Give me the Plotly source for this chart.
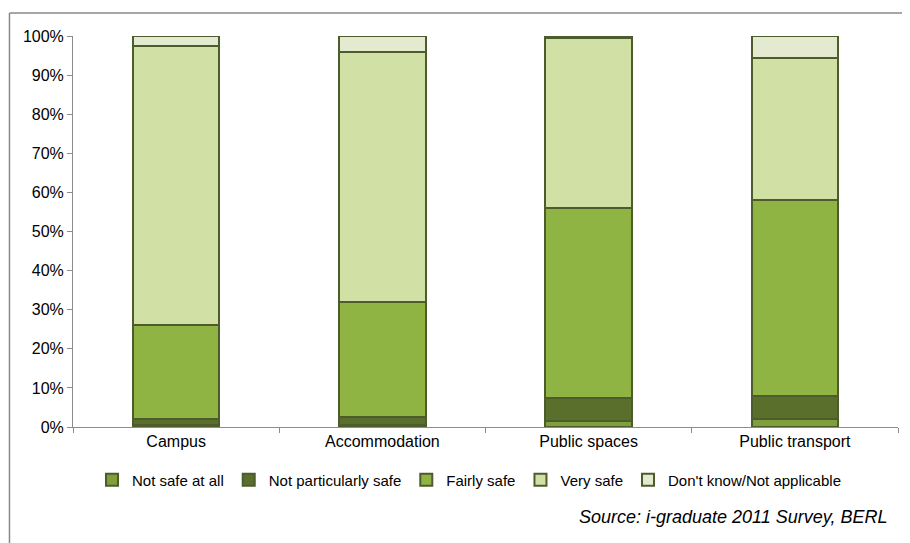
import plotly.graph_objects as go

categories = ["Campus", "Accommodation", "Public spaces", "Public transport"]
not_safe_at_all = [0.5, 0.5, 1.5, 2.0]
not_particularly_safe = [1.5, 2.0, 6.0, 6.0]
fairly_safe = [24.0, 29.5, 48.5, 50.0]
very_safe = [71.5, 64.0, 43.5, 36.5]
dont_know = [2.5, 4.0, 0.5, 5.5]

series = [
    ("Not safe at all", not_safe_at_all, "#7f9f3a"),
    ("Not particularly safe", not_particularly_safe, "#5b6f2c"),
    ("Fairly safe", fairly_safe, "#8fb443"),
    ("Very safe", very_safe, "#d1e1a6"),
    ("Don't know/Not applicable", dont_know, "#e3ead0"),
]

fig = go.Figure()
for name, vals, col in series:
    fig.add_trace(go.Bar(
        x=categories, y=vals, name=name,
        marker=dict(color=col, line=dict(color="#4d5c2c", width=2)),
    ))

fig.update_layout(
    barmode="stack",
    bargap=0.58,
    width=910, height=543,
    margin=dict(l=65, r=20, t=28, b=124),
    plot_bgcolor="white", paper_bgcolor="white",
    font=dict(family="Liberation Sans", size=16, color="#000000"),
    showlegend=True,
    legend=dict(orientation="h", x=0.48, xanchor="center", y=-0.1355, yanchor="middle",
                font=dict(size=15), itemwidth=30, traceorder="normal"),
)
fig.update_yaxes(range=[0, 100], dtick=10, ticksuffix="%", showgrid=False,
                 showline=True, linecolor="#8c8c8c", linewidth=1,
                 ticks="outside", ticklen=5, tickcolor="#8c8c8c",
                 tickfont=dict(size=16), zeroline=False)
fig.update_xaxes(showline=True, linecolor="#8c8c8c", linewidth=1,
                 ticks="outside", ticklen=5, tickcolor="#8c8c8c", tickson="boundaries",
                 tickfont=dict(size=16), showgrid=False)

# outer frame (top and left edges)
fig.add_shape(type="line", xref="paper", yref="paper", x0=-0.077, x1=1.03, y0=1.0588, y1=1.0588,
              line=dict(color="#8a8a8a", width=1.5), layer="above")
fig.add_shape(type="line", xref="paper", yref="paper", x0=-0.077, x1=-0.077, y0=1.0588, y1=-0.33,
              line=dict(color="#8a8a8a", width=1.5), layer="above")

fig.add_annotation(text="<i>Source: i-graduate 2011 Survey, BERL</i>", xref="paper", yref="paper",
                   x=0.99, y=-0.23, xanchor="right", yanchor="middle", showarrow=False,
                   font=dict(size=18, color="#000000"))

fig.write_html("out.html")
